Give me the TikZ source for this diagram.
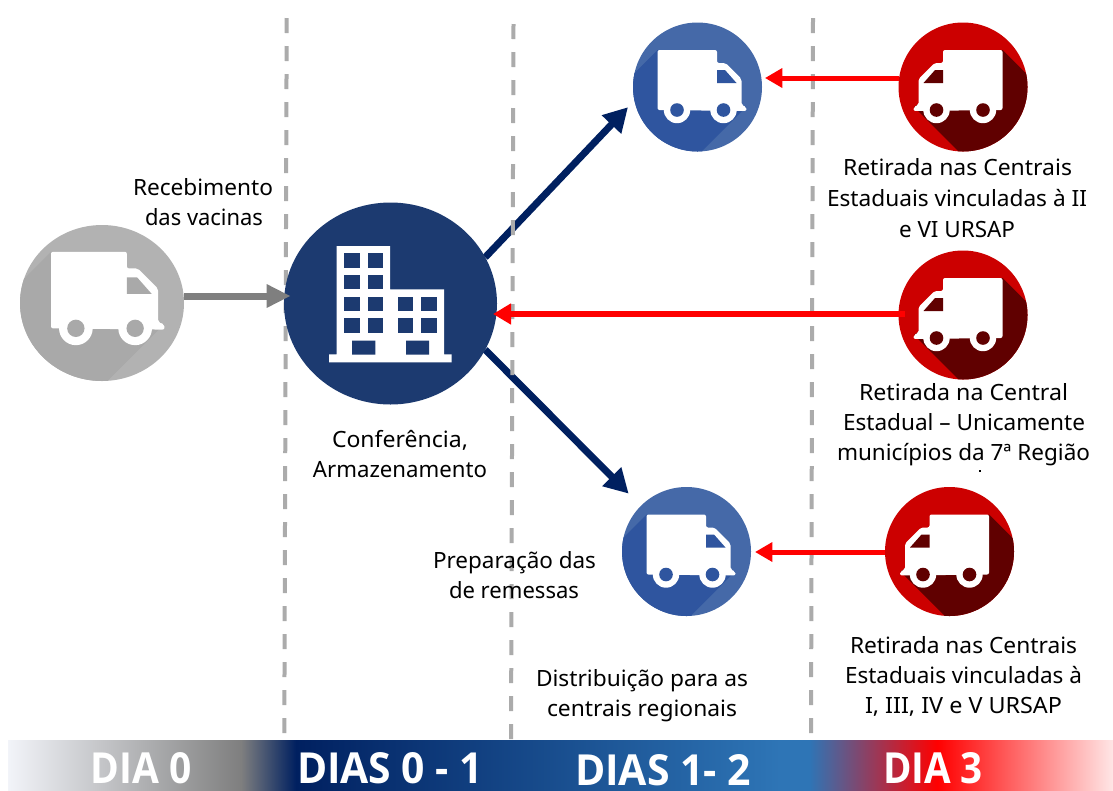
\documentclass[tikz,border=0pt]{standalone}
\usepackage{fontspec}
\setmainfont{Noto Sans}
\newfontfamily\bannerfont{Open Sans}[FontFace={b}{n}{Font=* Bold}]
\usetikzlibrary{shapes.geometric,arrows.meta}
\definecolor{dashgray}{HTML}{ABABAB}
\definecolor{navyarrow}{HTML}{002060}
\definecolor{bldgblue}{HTML}{1C3A70}
\definecolor{bluelight}{HTML}{4569A8}
\definecolor{bluedark}{HTML}{2F559F}
\definecolor{redlight}{HTML}{CC0000}
\definecolor{reddark}{HTML}{600000}
\definecolor{graylight}{HTML}{B2B2B2}
\definecolor{graydark}{HTML}{A9A9A9}
\definecolor{grayarrow}{HTML}{7F7F7F}
\definecolor{bannerstart}{HTML}{F2F4F9}
\definecolor{bannerblue}{HTML}{2E75B6}
\definecolor{bannerpink}{HTML}{FFE6E6}
\pgfdeclarehorizontalshading{bannershade}{100bp}{
 color(0bp)=(bannerstart);
 color(25bp)=(bannerstart);
 color(35.54bp)=(grayarrow);
 color(38.03bp)=(navyarrow);
 color(59.93bp)=(bannerblue);
 color(61.24bp)=(bannerblue);
 color(67.04bp)=(red);
 color(75bp)=(bannerpink);
 color(100bp)=(bannerpink)}
\newlength\pxu\setlength\pxu{0.75pt}
\newcommand\fitw[2]{\resizebox{#1\pxu}{\height}{#2}}
\tikzset{
  disc/.style={ellipse,inner sep=0pt,outer sep=0pt,draw=none},
  guide/.style={draw=dashgray,line width=3pt,dash pattern=on 11.25pt off 9.75pt},
  grayline/.style={draw=grayarrow,line width=5.25pt,-{Triangle[length=18pt,width=16.5pt]}},
  navyline/.style={draw=navyarrow,line width=5.25pt,-{Triangle[length=18pt,width=19pt]}},
  redline/.style={draw=red,line width=3.75pt,-{Triangle[length=13pt,width=14pt]}},
  lbl/.style={anchor=base,inner sep=0pt,font=\fontsize{16.8pt}{20pt}\selectfont,text=black},
  bannerlbl/.style={anchor=base,inner sep=0pt,text=white,font=\bannerfont\bfseries\fontsize{30pt}{34pt}\selectfont},
}
\newcommand\vehicle[9]{%
  \node[disc,fill=\lightc,minimum width={2*#4*0.75pt},minimum height={2*#5*0.75pt}] (#1) at (#2,#3) {};
  \begin{scope}
    \clip (#2,#3) ellipse [x radius=#4,y radius=#5];
    \begin{scope}[shift={(#6,#7)},xscale=#9*#8,yscale=#8]
      \fill[\darkc] (-40,-37) -- (-240,163) -- (-151.5,220) -- (48.5,20) -- cycle;
    \end{scope}
  \end{scope}
  \begin{scope}[shift={(#6,#7)},xscale=#9*#8,yscale=#8]
    \fill[white,rounded corners=1.5pt] (-40,-37) -- (19.5,-37) -- (19.5,-24) -- (28,-24) -- (44,-8) -- (44,18) -- (49,20) -- (49,24) -- (-40,23) -- cycle;
    \fill[white] (-20.5,23) circle [radius=13.2] (26,23) circle [radius=13.2];
    \fill[\darkc] (-20.5,23) circle [radius=6.8] (26,23) circle [radius=6.8];
    \fill[\darkc] (19.5,-17) -- (27.5,-17) -- (39,-4) -- (19.5,-4) -- cycle;
  \end{scope}
}
\newcommand\setcolors[2]{\def\lightc{#1}\def\darkc{#2}}
\begin{document}
\begin{tikzpicture}[x=0.75pt,y=-0.75pt]
\useasboundingbox (0,0) rectangle (1113,790);
\node[disc,minimum width={213*0.75pt},minimum height={202*0.75pt}] (bldgshape) at (390.5,303.5) {};
\node[disc,minimum width={129*0.75pt},minimum height={129*0.75pt}] (blueAshape) at (697.5,87) {};
\node[disc,minimum width={129*0.75pt},minimum height={129*0.75pt}] (blueBshape) at (686.5,551.5) {};
% navy connectors lie beneath the guides
\draw[navyline,shorten >=7pt] (bldgshape.26) -- (blueAshape.192);
\draw[navyline,shorten >=13pt] (bldgshape.-26) -- (blueBshape.135.5);
% guides
\coordinate (g1t) at (286.7,18); \coordinate (g1b) at (284.3,733);
\coordinate (g2t) at (513.5,24); \coordinate (g2b) at (511,740);
\coordinate (g3t) at (813,18); \coordinate (g3b) at (811,733);
\draw[guide] (g1t) -- (g1b);
\draw[guide] (g2t) -- (g2b);
\draw[guide] (g3t) -- (g3b);
% vehicles
\setcolors{graylight}{graydark}
\vehicle{gray}{102}{303}{82}{78}{102}{299}{1.275}{1}
\setcolors{bluelight}{bluedark}
\vehicle{blueA}{697.5}{87}{64.5}{64.5}{697.5}{87}{1}{1}
\vehicle{blueB}{686.5}{551.5}{64.5}{64.5}{686.5}{551.5}{1}{1}
\setcolors{redlight}{reddark}
\vehicle{redA}{963}{87}{64.5}{64.5}{962.5}{87}{1}{-1}
\vehicle{redB}{963}{315}{64.5}{64.5}{962.5}{315}{1}{-1}
\vehicle{redC}{949.5}{551.5}{64.5}{64.5}{949}{551.5}{1}{-1}
% building
\node[disc,fill=bldgblue,minimum width={213*0.75pt},minimum height={202*0.75pt}] (bldg) at (390.5,303.5) {};
\fill[white] (336.7,246) -- (390,246) -- (390,289.3) -- (444,289.3) -- (444,354.3) -- (451.7,354.3) -- (451.7,362.3) -- (329,362.3) -- (329,354.3) -- (336.7,354.3) -- cycle;
\foreach \r/\s in {296.7/311.3,318.3/333.3}{
  \foreach \c/\d in {344.3/359.7,367.7/382.7,398.3/413.3,421/436.7}{
    \fill[bldgblue] (\c,\r) rectangle (\d,\s);}}
\foreach \r/\s in {253.3/267.7,275/289.3}{
  \foreach \c/\d in {344.3/359.7,367.7/382.7}{
    \fill[bldgblue] (\c,\r) rectangle (\d,\s);}}
\fill[bldgblue] (352,340.7) rectangle (375.3,354.7) (406,340.7) rectangle (429,354.7);
% connectors
\draw[grayline,shorten >=-5pt] (gray.east |- 0,296) -- (bldg.west |- 0,296);
\draw[redline,shorten >=2.2pt] (redA.west |- 0,78) -- (blueA.east |- 0,78);
\draw[redline,line width=4.5pt,shorten <=-5pt,shorten >=-3pt,-{Triangle[length=13.5pt,width=15pt]}] (redB.west |- 0,314) -- (bldg.east |- 0,314);
\draw[redline,shorten >=3pt] (redC.west |- 0,552) -- (blueB.east |- 0,552);
% labels
\node[lbl] (t1) at (203,195) {\fitw{140}{Recebimento}};
\node[lbl] (t2) at (204,225) {\fitw{118}{das vacinas}};
\node[lbl] (t3) at (400,447) {\fitw{136}{Conferência,}};
\node[lbl] (t4) at (400,477) {\fitw{174}{Armazenamento}};
\node[lbl] (t5) at (957.5,175) {\fitw{229}{Retirada nas Centrais}};
\node[lbl] (t6) at (957,206) {\fitw{260}{Estaduais vinculadas à II}};
\node[lbl] (t7) at (957,237) {\fitw{116}{e VI URSAP}};
\node[lbl] (t8) at (963.5,400) {\fitw{209}{Retirada na Central}};
\node[lbl] (t9) at (964,430) {\fitw{242}{Estadual – Unicamente}};
\node[lbl] (t10) at (963.5,460) {\fitw{253}{municípios da 7ª Região}};
\fill[black] (979,470) rectangle (981,471.5);
\node[lbl] (t11) at (963.5,653) {\fitw{227}{Retirada nas Centrais}};
\node[lbl] (t12) at (963.5,683) {\fitw{237}{Estaduais vinculadas à}};
\node[lbl] (t13) at (963.5,713) {\fitw{197}{I, III, IV e V URSAP}};
\node[lbl] (t14) at (514.5,568) {\fitw{163}{Preparação das}};
\node[lbl] (t15) at (514,598) {\fitw{130}{de remessas}};
\node[lbl] (t16) at (642,686) {\fitw{212}{Distribuição para as}};
\node[lbl] (t17) at (642,716) {\fitw{190}{centrais regionais}};
% banner
\fill[shading=bannershade] (8,740) rectangle (1113,790);
\node[bannerlbl] (b1) at (141.5,783) {\resizebox{75.75pt}{23.25pt}{DIA 0}};
\node[bannerlbl] (b2) at (390,783) {\resizebox{139.5pt}{23.25pt}{DIAS 0 - 1}};
\node[bannerlbl] (b3) at (663,785) {\resizebox{132pt}{23.25pt}{DIAS 1- 2}};
\node[bannerlbl] (b4) at (933,783) {\resizebox{75pt}{23.25pt}{DIA 3}};
\end{tikzpicture}
\end{document}
